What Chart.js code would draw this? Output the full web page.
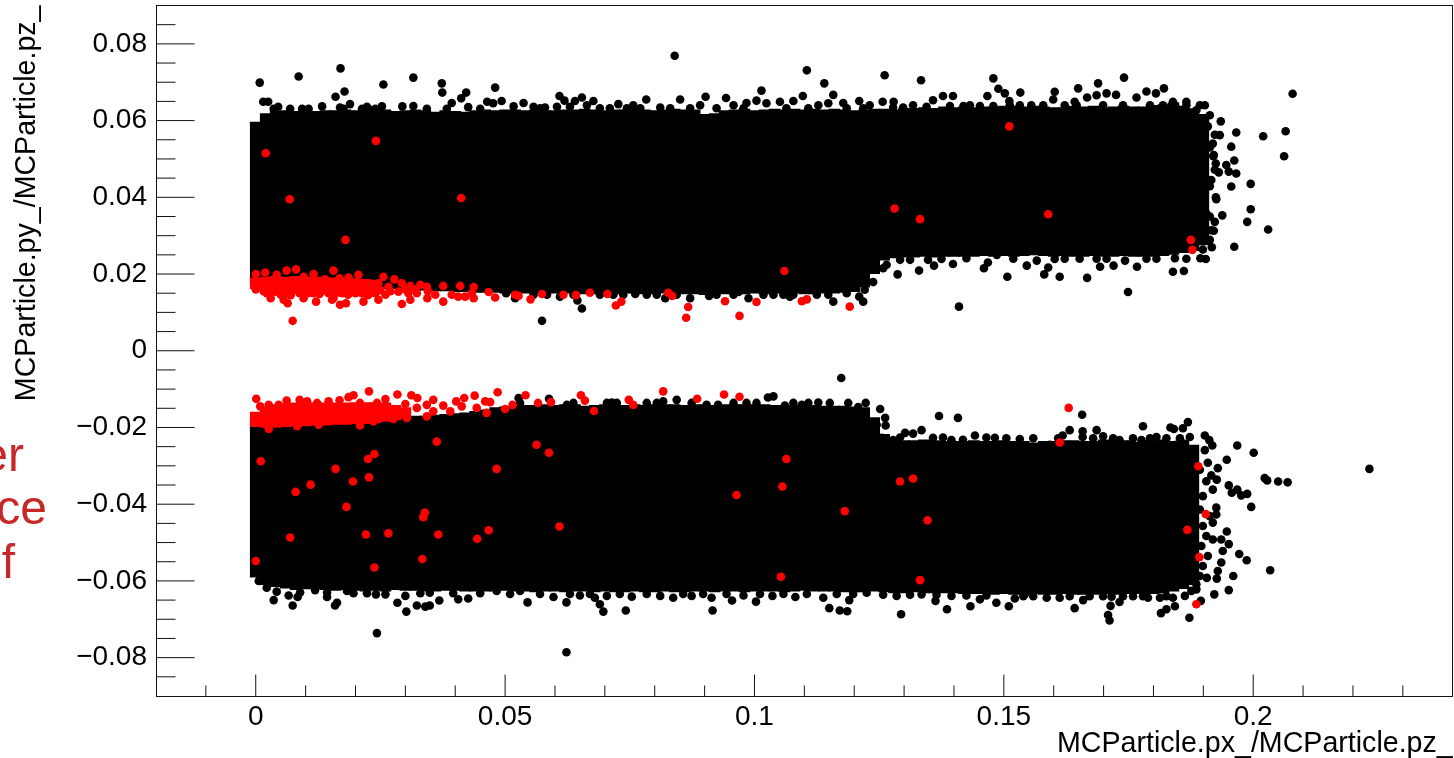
<!DOCTYPE html>
<html>
<head>
<meta charset="utf-8">
<style>
  html, body { margin: 0; background: #fff; overflow: hidden; }
  #page { position: relative; width: 1454px; height: 758px; overflow: hidden; }
  canvas { position: absolute; left: 0; top: 0; }
  .cut { position: absolute; right: 1407px; color: #c62828; font: 48px/54px "Liberation Sans", sans-serif; white-space: nowrap; }
</style>
</head>
<body>
<div id="page">
  <!-- chart.js keeps a point radius free on the right, so the canvas runs a little past the page -->
  <canvas id="graph" width="1457" height="758"></canvas>
  <div class="cut" style="top:428px;right:1430px">er</div>
  <div class="cut" style="top:481px">ce</div>
  <div class="cut" style="top:535px;right:1439px">f</div>
</div>
<script src="https://cdn.jsdelivr.net/npm/chart.js@4/dist/chart.umd.min.js"></script>
<script>
const xMajorTicks = [0, 0.05, 0.1, 0.15, 0.2]
const xTickLabels = ["0", "0.05", "0.1", "0.15", "0.2"]
const xMinorTicks = [-0.01, 0.01, 0.02, 0.03, 0.04, 0.06, 0.07, 0.08, 0.09, 0.11, 0.12, 0.13, 0.14, 0.16, 0.17, 0.18, 0.19, 0.21, 0.22, 0.23]
const yMajorTicks = [-0.08, -0.06, -0.04, -0.02, 0, 0.02, 0.04, 0.06, 0.08]
const yTickLabels = ["\u22120.08", "\u22120.06", "\u22120.04", "\u22120.02", "0", "0.02", "0.04", "0.06", "0.08"]
const yMinorTicks = [-0.085, -0.075, -0.07, -0.065, -0.055, -0.05, -0.045, -0.035, -0.03, -0.025, -0.015, -0.01, -0.005,
  0.005, 0.01, 0.015, 0.025, 0.03, 0.035, 0.045, 0.05, 0.055, 0.065, 0.07, 0.075, 0.085]

// the black mass is too dense to read dot by dot: top and bottom edge per column
const columnX = [0, .002, .004, .006, .008, .01, .012, .014, .016, .018,
  .02, .022, .024, .026, .028, .03, .032, .034, .036, .038,
  .04, .042, .044, .046, .048, .05, .052, .054, .056, .058,
  .06, .062, .064, .066, .068, .07, .072, .074, .076, .078,
  .08, .082, .084, .086, .088, .09, .092, .094, .096, .098,
  .1, .102, .104, .106, .108, .11, .112, .114, .116, .118,
  .12, .122, .124, .126, .128, .13, .132, .134, .136, .138,
  .14, .142, .144, .146, .148, .15, .152, .154, .156, .158,
  .16, .162, .164, .166, .168, .17, .172, .174, .176, .178,
  .18, .182, .184, .186, .188, .19]
const upperTop = [.0596, .0618, .0624, .0626, .0624, .0622, .0624, .0626, .0626, .0628,
  .0626, .0624, .0626, .0628, .0624, .0626, .0628, .0626, .0622, .0626,
  .0624, .0622, .0626, .0628, .0626, .0628, .0628, .0626, .0628, .0626,
  .0626, .0628, .0628, .0630, .0628, .0626, .0628, .0628, .0630, .0628,
  .0626, .0628, .0630, .0628, .0628, .0616, .0618, .0626, .0628, .0630,
  .0626, .0628, .0630, .0628, .0630, .0628, .0630, .0628, .0630, .0628,
  .0626, .0628, .0630, .0630, .0628, .0632, .0632, .0634, .0632, .0636,
  .0634, .0636, .0634, .0636, .0636, .0638, .0638, .0636, .0638, .0636,
  .0634, .0634, .0638, .0636, .0638, .0634, .0636, .0638, .0636, .0636,
  .0640, .0642, .0646, .0638, .0631, .0616]
const upperBottom = [.0176, .0174, .0172, .0172, .0170, .0170, .0168, .0168, .0166, .0166,
  .0166, .0164, .0164, .0162, .0162, .0160, .0158, .0158, .0156, .0156,
  .0154, .0154, .0152, .0152, .0152, .0150, .0150, .0150, .0150, .0150,
  .0150, .0150, .0150, .0148, .0148, .0150, .0148, .0150, .0150, .0148,
  .0148, .0150, .0148, .0148, .0148, .0146, .0148, .0148, .0148, .0148,
  .0150, .0148, .0150, .0150, .0150, .0148, .0148, .0150, .0150, .0152,
  .0154, .0166, .0201, .0236, .0242, .0244, .0244, .0246, .0244, .0246,
  .0246, .0246, .0246, .0248, .0246, .0248, .0246, .0248, .0250, .0248,
  .0246, .0248, .0246, .0246, .0248, .0246, .0246, .0248, .0246, .0246,
  .0246, .0248, .0251, .0256, .0261, .0276]
const lowerTop = [-.0185, -.0185, -.0183, -.0183, -.0182, -.0182, -.0180, -.0180, -.0178, -.0178,
  -.0176, -.0176, -.0174, -.0174, -.0172, -.0172, -.0170, -.0170, -.0168, -.0166,
  -.0164, -.0162, -.0158, -.0154, -.0148, -.0146, -.0144, -.0142, -.0142, -.0140,
  -.0142, -.0140, -.0140, -.0144, -.0142, -.0140, -.0140, -.0142, -.0140, -.0142,
  -.0140, -.0140, -.0140, -.0142, -.0140, -.0140, -.0142, -.0140, -.0140, -.0140,
  -.0140, -.0140, -.0142, -.0142, -.0142, -.0142, -.0142, -.0144, -.0144, -.0144,
  -.0146, -.0148, -.0174, -.0218, -.0232, -.0234, -.0234, -.0232, -.0234, -.0236,
  -.0236, -.0236, -.0234, -.0236, -.0236, -.0234, -.0236, -.0236, -.0240, -.0236,
  -.0236, -.0234, -.0234, -.0236, -.0236, -.0232, -.0234, -.0234, -.0238, -.0234,
  -.0234, -.0232, -.0236, -.0232, -.0246]
const lowerBottom = [-.0590, -.0610, -.0615, -.0619, -.0623, -.0621, -.0621, -.0623, -.0625, -.0623,
  -.0625, -.0627, -.0625, -.0627, -.0623, -.0625, -.0625, -.0627, -.0627, -.0625,
  -.0625, -.0627, -.0627, -.0627, -.0627, -.0625, -.0627, -.0627, -.0629, -.0627,
  -.0627, -.0629, -.0627, -.0627, -.0629, -.0627, -.0629, -.0629, -.0627, -.0629,
  -.0629, -.0627, -.0629, -.0629, -.0627, -.0627, -.0629, -.0627, -.0627, -.0629,
  -.0627, -.0627, -.0627, -.0629, -.0627, -.0625, -.0627, -.0627, -.0627, -.0629,
  -.0629, -.0629, -.0627, -.0629, -.0631, -.0631, -.0629, -.0631, -.0631, -.0631,
  -.0631, -.0633, -.0633, -.0633, -.0635, -.0633, -.0635, -.0635, -.0633, -.0635,
  -.0635, -.0633, -.0635, -.0635, -.0635, -.0633, -.0635, -.0633, -.0633, -.0633,
  -.0633, -.0631, -.0627, -.0620, -.0610]

// solid red strips next to the gap
const redUpperTop = [.0190, .0192, .0194, .0192, .0194, .0192, .0192, .0190, .0190, .0188, .0188, .0186, .0184]
const redUpperBottom = [.0162, .0155, .0150, .0148, .0148, .0148, .0148, .0148, .0148, .0148, .0148, .0150, .0150]
const redLowerTop = [-.0160, -.0146, -.0140, -.0138, -.0136, -.0136, -.0136, -.0136, -.0136, -.0136, -.0135, -.0135, -.0135, -.0136, -.0142, -.0148]
const redLowerBottom = [-.0198, -.0200, -.0200, -.0198, -.0196, -.0196, -.0194, -.0194, -.0192, -.0192, -.0190, -.0190, -.0188, -.0184, -.0180, -.0176]

// single dots, [x, y]
const blackDots = [
  [.0008,.0699],[.0086,.0715],[.0170,.0736],[.0178,.0676],[.0160,.0662],[.0256,.0694],[.0316,.0712],[.0373,.0697],[.0374,.0673],
  [.0422,.0673],[.0412,.0658],[.0480,.0686],[.0464,.0649],[.0426,.0635],[.0393,.0646],[.0015,.0649],[.0025,.0649],[.0045,.0636],
  [.0133,.0637],[.0189,.0643],[.0223,.0636],[.0253,.0637],[.0294,.0637],[.0316,.0638],[.0169,.0634],[.0476,.0645],
  [.0840,.0769],[.1105,.0731],[.1140,.0697],[.1261,.0718],[.1334,.0705],[.1479,.0710],[.1489,.0683],[.1014,.0678],[.1158,.0667],
  [.1097,.0664],[.0609,.0664],[.0619,.0652],[.0654,.0660],[.0640,.0651],[.0537,.0646],[.0493,.0651],[.0677,.0651],[.0902,.0662],
  [.0943,.0659],[.0958,.0640],[.0851,.0655],[.0783,.0655],[.0727,.0643],[.1004,.0652],[.1051,.0649],[.1078,.0651],[.1210,.0651],
  [.1257,.0649],[.1279,.0649],[.1358,.0653],[.1378,.0664],[.1398,.0664],[.1467,.0664],
  [.0517,.0637],[.0557,.0636],[.0580,.0634],[.0604,.0636],[.0630,.0636],[.0664,.0640],[.0757,.0640],[.0811,.0634],[.0891,.0640],
  [.0984,.0646],[.1024,.0645],[.1128,.0640],[.1148,.0645],[.1178,.0646],[.1231,.0640],[.1318,.0640],[.1432,.0640],
  [.0574,.0078],[.0654,.0110],[.0645,.0131],[.1410,.0115],[.1287,.0199],[.1330,.0209],[.1360,.0222],[.1398,.0226],[.1460,.0215],
  [.1468,.0230],[.1258,.0215],[.1265,.0224],[.1238,.0179],[.1218,.0128],[.1210,.0141],[.1158,.0128],[.1148,.0146],[.1185,.0150],
  [.1221,.0159],[.1292,.0237],[.1312,.0237],[.1348,.0237],[.1375,.0239],[.1425,.0241],[.1486,.0250],
  [.0502,.0150],[.0520,.0137],[.0610,.0141],[.0761,.0148],[.0821,.0137],[.0871,.0137],[.0909,.0143],[.0988,.0137],[.1038,.0146],
  [.0968,.0153],[.0737,.0146],[.1071,.0141],
  [.1741,.0712],[.1689,.0697],[.1821,.0684],[.1533,.0673],[.1502,.0671],[.1602,.0675],[.1649,.0684],[.1786,.0676],[.1805,.0671],
  [.1706,.0671],[.1725,.0667],[.1686,.0666],[.1667,.0660],[.1599,.0655],[.1766,.0660],[.1511,.0651],[.1642,.0649],[.1903,.0640],
  [.1913,.0614],[.1935,.0598],[.1966,.0569],[.2020,.0559],[.2065,.0572],[.2079,.0670],[.2062,.0507],[.1956,.0532],[.1962,.0496],
  [.1946,.0484],[.1931,.0465],[.1951,.0467],[.1966,.0462],[.1995,.0435],[.1956,.0428],[.1925,.0400],[.1995,.0369],[.1938,.0353],
  [.1988,.0336],[.2030,.0316],[.1962,.0271],[.1917,.0270],[.1923,.0336],[.1921,.0313],[.1913,.0289],[.1905,.0239],[.1894,.0241],
  [.1861,.0208],[.1839,.0206],[.1767,.0219],[.1749,.0153],[.1667,.0190],[.1612,.0193],[.1581,.0199],[.1589,.0217],[.1507,.0193],
  [.1546,.0222],[.1693,.0219],[.1720,.0222],[.1743,.0235],[.1602,.0239],[.1566,.0235],[.1843,.0241],[.1906,.0584],[.1933,.0562],
  [.1919,.0540],[.1921,.0510],[.1925,.0488],[.1916,.0445],[.1906,.0358],[.1866,.0649],[.1839,.0649],[.1886,.0627],
  [.0243,-.0736],[.0074,-.0664],[.0036,-.0650],[.0066,-.0638],[.0084,-.0642],[.0159,-.0664],[.0163,-.0657],[.0143,-.0642],
  [.0183,-.0626],[.0241,-.0635],[.0284,-.0657],[.0302,-.0680],[.0323,-.0664],[.0340,-.0667],[.0349,-.0664],[.0368,-.0651],
  [.0406,-.0648],[.0426,-.0646],[.0349,-.0631],[.0006,-.0600],[.0022,-.0618],[.0119,-.0624],[.0260,-.0635],[.0300,-.0639],[.0483,-.0626],
  [.1174,-.0071],[.0623,-.0786],[.0545,-.0656],[.0597,-.0642],[.0623,-.0656],[.0690,-.0661],[.0697,-.0680],[.0742,-.0677],[.0916,-.0677],
  [.0955,-.0651],[.1003,-.0654],[.1082,-.0642],[.1150,-.0671],[.1171,-.0677],[.1186,-.0679],[.1190,-.0650],[.1294,-.0687],[.1363,-.0652],
  [.1386,-.0674],[.1433,-.0666],[.1485,-.0657],[.1452,-.0648],[.1395,-.0639],[.1285,-.0639],[.1138,-.0644],[.0680,-.0644],[.0650,-.0638],
  [.0704,-.0639],[.0754,-.0641],[.0811,-.0639],[.0837,-.0644],[.0874,-.0639],[.0914,-.0644],[.0978,-.0638],[.1036,-.0639],[.1225,-.0631],
  [.1335,-.0635],[.0530,-.0626],
  [.1370,-.0170],[.1408,-.0175],[.1038,-.0119],[.1027,-.0122],[.0527,-.0123],[.0588,-.0125],[.1223,-.0136],[.1252,-.0152],[.1262,-.0175],
  [.1263,-.0195],[.1245,-.0193],[.1208,-.0147],[.1188,-.0136],[.1128,-.0135],[.1095,-.0141],[.1061,-.0143],[.1004,-.0136],[.0904,-.0141],
  [.0844,-.0128],[.0927,-.0141],[.0817,-.0132],[.0714,-.0135],[.0624,-.0141],[.1302,-.0214],[.1335,-.0207],[.1318,-.0216],[.1358,-.0227],
  [.1278,-.0233],[.1395,-.0233],[.1442,-.0221],[.1482,-.0227],[.1418,-.0232],[.1255,-.0227],
  [.1657,-.0167],[.1632,-.0207],[.1618,-.0221],[.1658,-.0210],[.1658,-.0225],[.1686,-.0207],[.1699,-.0223],[.1779,-.0197],[.1834,-.0200],
  [.1841,-.0204],[.1859,-.0202],[.1869,-.0186],[.1873,-.0225],[.1903,-.0221],[.1912,-.0233],[.1918,-.0247],[.1903,-.0259],[.1968,-.0247],
  [.2001,-.0266],[.1947,-.0284],[.1909,-.0292],[.1929,-.0306],[.1916,-.0325],[.1927,-.0336],[.1951,-.0351],[.1968,-.0362],[.1988,-.0373],
  [.1996,-.0407],[.2023,-.0332],[.2028,-.0338],[.2050,-.0341],[.2069,-.0343],[.2233,-.0308],[.1957,-.0370],[.1976,-.0377],[.1919,-.0362],
  [.1926,-.0409],[.1926,-.0427],[.1919,-.0448],[.1947,-.0471],[.1936,-.0492],[.1951,-.0504],[.1919,-.0492],[.1939,-.0522],[.1972,-.0530],
  [.1987,-.0546],[.2034,-.0572],[.1936,-.0552],[.1929,-.0574],[.1960,-.0587],[.1927,-.0594],[.1907,-.0592],[.1951,-.0624],[.1922,-.0635],
  [.1895,-.0652],[.1872,-.0696],[.1843,-.0666],[.1826,-.0674],[.1815,-.0684],[.1712,-.0703],[.1709,-.0689],[.1714,-.0665],[.1732,-.0655],
  [.1642,-.0671],[.1510,-.0666],[.1659,-.0650],[.1522,-.0646],[.1586,-.0644],[.1612,-.0644],[.1716,-.0641],[.1789,-.0644],[.1813,-.0644],
  [.1839,-.0644],[.1863,-.0639],[.1886,-.0622],[.1542,-.0635],
  [.1532,-.0230],[.1571,-.0255],[.1732,-.0233],[.1776,-.0233],[.1806,-.0225],[.1846,-.0245],[.1592,-.0245],[.1749,-.0245],[.1825,-.0239],
  // bumps along the edges of the mass
  [.0036,.0631],[.0069,.0631],[.0093,.0631],[.0106,.0631],[.0176,.0631],[.0213,.0631],[.0226,.0631],[.0240,.0631],[.0343,.0631],[.0383,.0631],[.0450,.0631],
  [.0570,.0632],[.0690,.0632],[.0710,.0632],[.0744,.0632],[.0771,.0632],[.0831,.0632],[.0871,.0632],[.0924,.0632],[.0978,.0632],[.1064,.0632],[.1108,.0632],
  [.1185,.0632],[.1218,.0632],[.1278,.0634],[.1298,.0634],[.1345,.0636],[.1392,.0638],[.1419,.0638],[.1452,.0638],[.1479,.0638],
  [.1512,.0640],[.1532,.0640],[.1555,.0640],[.1579,.0640],[.1622,.0640],[.1646,.0640],[.1699,.0640],[.1739,.0640],[.1793,.0640],[.1819,.0640],[.1843,.0640],[.1866,.0640],[.1893,.0640],
  [.1519,.0240],[.1622,.0240],[.1652,.0240],[.1686,.0240],[.1706,.0240],[.1786,.0240],[.1806,.0240],[.1866,.0240],
  [.1909,.0585],[.1923,.0563],[.1913,.0530],[.1920,.0507],[.1923,.0472],[.1913,.0429],[.1926,.0395],[.1913,.0350],[.1916,.0314],[.1909,.0287],[.1899,.0264],
  [.0557,.0146],[.0584,.0146],[.0637,.0146],[.0690,.0146],[.0717,.0146],[.0784,.0146],[.0804,.0146],[.0844,.0146],[.0924,.0146],[.0958,.0146],[.1018,.0146],[.1058,.0146],[.1078,.0146],[.1125,.0146],
  [.0530,-.0136],[.0637,-.0136],[.0704,-.0136],[.0724,-.0136],[.0784,-.0136],[.0804,-.0136],[.0874,-.0136],[.0958,-.0136],[.0984,-.0136],[.1078,-.0136],[.1108,-.0136],[.1151,-.0136],
  [.1292,-.0226],[.1378,-.0226],[.1465,-.0226],[.1505,-.0228],[.1559,-.0228],[.1609,-.0228],[.1679,-.0228],[.1719,-.0228],[.1759,-.0228],[.1793,-.0228],[.1826,-.0228],[.1853,-.0228],
  [.0042,-.0628],[.0089,-.0630],[.0143,-.0630],[.0196,-.0632],[.0223,-.0632],[.0330,-.0632],[.0396,-.0632],[.0450,-.0632],
  [.0510,-.0634],[.0570,-.0634],[.0630,-.0634],[.0670,-.0634],[.0730,-.0634],[.0784,-.0634],[.0857,-.0634],[.0897,-.0634],[.0944,-.0634],[.1011,-.0634],[.1058,-.0634],
  [.1105,-.0634],[.1165,-.0634],[.1198,-.0634],[.1258,-.0636],[.1312,-.0636],[.1365,-.0636],[.1425,-.0638],[.1465,-.0638],
  [.1539,-.0640],[.1559,-.0640],[.1632,-.0640],[.1672,-.0640],[.1699,-.0640],[.1739,-.0640],[.1759,-.0640],[.1779,-.0640],[.1826,-.0640],
  [.1893,-.0310],[.1906,-.0340],[.1899,-.0379],[.1893,-.0414],[.1913,-.0431],[.1899,-.0457],[.1906,-.0483],[.1896,-.0509],[.1909,-.0535],[.1899,-.0561],[.1893,-.0587],[.1886,-.0609],[.1876,-.0626]
]
const redDots = [
  [.0020,.0515],[.0241,.0547],[.0068,.0395],[.0412,.0398],[.0180,.0289],[.0074,.0078],
  [.1281,.0371],[.1332,.0343],[.1060,.0208],[.0520,.0146],[.0527,.0143],[.0551,.0134],[.0574,.0148],[.0617,.0146],[.0642,.0145],
  [.0670,.0151],[.0705,.0148],[.0722,.0118],[.0733,.0128],[.0827,.0151],[.0835,.0143],[.0867,.0114],[.0863,.0086],[.0941,.0129],
  [.0970,.0091],[.1004,.0127],[.1095,.0129],[.1105,.0134],[.1191,.0115],[.1511,.0585],[.1589,.0356],[.1875,.0289],[.1878,.0263],
  [.0000,.0200],[.0019,.0204],[.0042,.0198],[.0062,.0209],[.0081,.0212],[.0156,.0209],[.0206,.0198],[.0256,.0193],[.0278,.0186],
  [.0168,.0189],[.0186,.0191],[.0116,.0200],[.0096,.0193],[.0139,.0186],
  [.0266,.0167],[.0293,.0176],[.0310,.0169],[.0330,.0172],[.0343,.0167],[.0376,.0169],[.0410,.0169],[.0437,.0166],[.0246,.0176],
  [.0000,.0160],[.0022,.0150],[.0042,.0154],[.0062,.0150],[.0079,.0159],[.0096,.0137],[.0116,.0150],[.0136,.0159],[.0156,.0137],
  [.0173,.0150],[.0193,.0159],[.0213,.0150],[.0229,.0150],[.0246,.0133],[.0260,.0146],[.0286,.0154],[.0306,.0150],[.0323,.0150],
  [.0344,.0137],[.0360,.0146],[.0376,.0128],[.0393,.0146],[.0406,.0141],[.0433,.0150],[.0467,.0153],[.0480,.0139],
  [.0030,.0137],[.0056,.0133],[.0064,.0124],[.0121,.0128],[.0153,.0133],[.0169,.0120],[.0181,.0124],[.0216,.0128],[.0293,.0122],
  [.0310,.0133],[.0437,.0137],[.0420,.0141],
  [.0016,.0155],[.0030,.0148],[.0050,.0146],[.0070,.0145],[.0088,.0150],[.0105,.0150],[.0128,.0148],[.0146,.0150],[.0165,.0152],
  [.0185,.0146],[.0200,.0150],[.0225,.0145],[.0240,.0150],[.0270,.0155],[.0250,.0158],[.0300,.0160],[.0320,.0160],[.0345,.0155],
  [.0001,-.0125],[.0009,-.0145],[.0026,-.0141],[.0046,-.0141],[.0062,-.0130],[.0088,-.0128],[.0103,-.0132],[.0123,-.0136],[.0146,-.0132],
  [.0168,-.0129],[.0186,-.0121],[.0196,-.0116],[.0209,-.0136],[.0227,-.0106],[.0243,-.0136],[.0260,-.0126],[.0284,-.0114],[.0312,-.0116],
  [.0324,-.0123],[.0300,-.0139],[.0356,-.0128],[.0343,-.0141],[.0376,-.0143],[.0402,-.0132],[.0418,-.0123],[.0439,-.0117],[.0460,-.0132],
  [.0470,-.0134],[.0485,-.0108],[.0390,-.0158],[.0413,-.0145],[.0443,-.0149],[.0463,-.0162],[.0343,-.0171],[.0356,-.0158],[.0303,-.0175],
  [.0276,-.0178],[.0323,-.0149],[.0209,-.0195],[.0026,-.0204],[.0083,-.0197],[.0126,-.0193],[.0236,-.0184],[.0263,-.0171],
  [.0500,-.0152],[.0515,-.0141],[.0541,-.0116],[.0566,-.0136],[.0592,-.0134],[.0652,-.0116],[.0660,-.0130],[.0678,-.0157],[.0748,-.0128],
  [.0757,-.0141],[.0817,-.0106],[.0885,-.0125],[.0939,-.0114],[.0970,-.0120],[.0563,-.0245],[.0588,-.0266],[.1064,-.0282],[.1056,-.0354],
  [.0964,-.0376],[.1181,-.0418],[.0609,-.0458],[.1053,-.0589],[.1332,-.0598],[.1292,-.0341],[.1318,-.0333],[.1347,-.0442],
  [.0010,-.0288],[.0080,-.0368],[.0110,-.0349],[.0160,-.0308],[.0195,-.0341],[.0182,-.0407],[.0227,-.0330],[.0225,-.0282],[.0238,-.0269],
  [.0363,-.0237],[.0483,-.0308],[.0339,-.0422],[.0336,-.0434],[.0069,-.0487],[.0221,-.0479],[.0266,-.0476],[.0366,-.0479],[.0444,-.0490],
  [.0467,-.0468],[.0334,-.0543],[.0000,-.0548],[.0238,-.0565],
  [.1630,-.0149],[.1612,-.0239],[.1890,-.0301],[.1905,-.0426],[.1868,-.0467],[.1892,-.0538],[.1886,-.0661]
]

const g = document.getElementById('graph')
const tickFont = { family: '"Liberation Sans"', size: 28 }
const titleFont = { family: '"Liberation Sans"', size: 28.6 }

function strip(tops, bottoms, color, order) {
  return {
    type: 'bar',
    data: tops.map((top, i) => ({ x: columnX[i], y: [bottoms[i], top] })),
    backgroundColor: color,
    borderWidth: 0,
    barThickness: 11,
    grouped: false,
    order: order
  }
}

function dots(points, color, order) {
  return {
    type: 'scatter',
    data: points.map(p => ({ x: p[0], y: p[1] })),
    backgroundColor: color,
    pointRadius: 4.3,
    pointBorderWidth: 0,
    order: order
  }
}

// chart.js keeps room for the first and last label, the ticks here stop before the frame
function noLabelRoom(s) {
  s.paddingTop = 0
  s.paddingBottom = 0
  s.paddingLeft = 0
  s.paddingRight = 0
}

// ROOT style frame with the ticks pointing inwards
const frameTicks = {
  id: 'frameTicks',
  afterDatasetsDraw(chart) {
    const { ctx, chartArea: a, scales } = chart
    const fx = Math.floor(a.left) + 0.5, fb = Math.floor(a.bottom) + 0.5
    const ft = Math.floor(a.top) + 0.5, fr = Math.round(a.right) - 0.5
    ctx.save()
    ctx.strokeStyle = '#111'
    ctx.lineWidth = 1
    ctx.beginPath()
    xMajorTicks.forEach(v => { const p = scales.x.getPixelForValue(v); ctx.moveTo(p, fb); ctx.lineTo(p, fb - 22) })
    xMinorTicks.forEach(v => { const p = scales.x.getPixelForValue(v); ctx.moveTo(p, fb); ctx.lineTo(p, fb - 11) })
    yMajorTicks.forEach(v => { const p = scales.y.getPixelForValue(v); ctx.moveTo(fx, p); ctx.lineTo(fx + 38, p) })
    yMinorTicks.forEach(v => { const p = scales.y.getPixelForValue(v); ctx.moveTo(fx, p); ctx.lineTo(fx + 19, p) })
    ctx.stroke()
    ctx.strokeRect(fx, ft, fr - fx, fb - ft)
    ctx.restore()
  }
}

new Chart(g, {
  data: {
    datasets: [
      dots(redDots, '#ff0000', 0),
      strip(redUpperTop, redUpperBottom, '#ff0000', 1),
      strip(redLowerTop, redLowerBottom, '#ff0000', 1),
      dots(blackDots, '#000000', 2),
      strip(upperTop, upperBottom, '#000000', 3),
      strip(lowerTop, lowerBottom, '#000000', 3)
    ]
  },
  options: {
    responsive: false,
    animation: false,
    events: [],
    layout: { padding: { top: 5.5 } },
    scales: {
      x: {
        type: 'linear',
        offset: false,
        min: -0.02,
        max: 0.24,
        afterFit: s => { s.height = 62; noLabelRoom(s) },
        afterBuildTicks: s => { s.ticks = xMajorTicks.map(v => ({ value: v })) },
        grid: { display: false },
        border: { display: false },
        ticks: {
          color: '#000',
          font: tickFont,
          padding: -4,
          autoSkip: false,
          maxRotation: 0,
          callback: v => xTickLabels[xMajorTicks.indexOf(v)]
        },
        title: {
          display: true,
          text: 'MCParticle.px_/MCParticle.pz_',
          align: 'end',
          color: '#000',
          font: titleFont,
          padding: { top: 0, bottom: -3 }
        }
      },
      y: {
        type: 'linear',
        min: -0.09,
        max: 0.09,
        afterFit: s => { s.width = 156; noLabelRoom(s) },
        afterBuildTicks: s => { s.ticks = yMajorTicks.map(v => ({ value: v })) },
        grid: { display: false },
        border: { display: false },
        ticks: {
          color: '#000',
          font: tickFont,
          padding: 1,
          autoSkip: false,
          callback: v => yTickLabels[yMajorTicks.indexOf(v)]
        },
        title: {
          display: true,
          text: 'MCParticle.py_/MCParticle.pz_',
          align: 'end',
          color: '#000',
          font: titleFont,
          padding: { top: 10, bottom: 0 }
        }
      }
    },
    plugins: {
      legend: { display: false },
      tooltip: { enabled: false }
    }
  },
  plugins: [frameTicks]
})
</script>
</body>
</html>
